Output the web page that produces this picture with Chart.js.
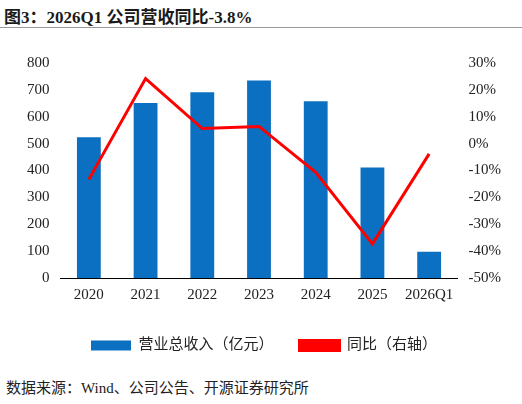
<!DOCTYPE html>
<html><head><meta charset="utf-8">
<script src="https://cdn.jsdelivr.net/npm/chart.js@4"></script>
<style>
body{margin:0;width:522px;height:404px;background:#fff;font-family:"Liberation Serif","Noto Sans CJK SC",serif;position:relative;overflow:hidden}
#title{position:absolute;left:4px;top:3px;font-size:17px;font-weight:bold;color:#1a1a1a}
#line{position:absolute;left:0;top:27px;width:522px;height:1px;background:#999}
#src{position:absolute;left:6px;top:376px;font-size:15px;color:#222}
#wrap{position:absolute;left:0;top:51px;width:522px;height:312px}
</style></head><body>
<div id="title">图3：2026Q1 公司营收同比-3.8%</div>
<div id="line"></div>
<div id="wrap"><canvas id="c"></canvas></div>
<div id="src">数据来源：Wind、公司公告、开源证券研究所</div>
<script>
const labels = ["2020","2021","2022","2023","2024","2025","2026Q1"];
const revenue = [524, 651, 691, 735, 658, 411, 98];
const yoy = [-13.3, 24.2, 5.6, 6.4, -10.7, -37.3, -3.8];
const font = {family:'"Liberation Serif","Noto Sans CJK SC",serif', size:15};
new Chart(document.getElementById("c"), {
  data: {
    labels,
    datasets: [
      {type:"line", label:"同比（右轴）", data:yoy, borderColor:"#ff0000", backgroundColor:"#ff0000",
       borderWidth:3, pointRadius:0, tension:0, yAxisID:"y1", order:0},
      {type:"bar", label:"营业总收入（亿元）", data:revenue, backgroundColor:"#0b6fc2",
       barPercentage:0.42, categoryPercentage:1, yAxisID:"y", order:1}
    ]
  },
  options: {
    responsive:true, maintainAspectRatio:false, animation:false,
    layout:{padding:{left:24,right:18,top:0}},
    plugins:{legend:{position:"bottom", reverse:true,
      labels:{font, color:"#222", boxWidth:40, boxHeight:10, padding:26}}, tooltip:{enabled:false}},
    scales:{
      x:{grid:{display:false, drawTicks:false}, border:{color:"#000"}, ticks:{font, color:"#222", padding:8}},
      y:{min:0, max:800, ticks:{stepSize:100, font, color:"#222"}, grid:{display:false}, border:{display:false}},
      y1:{position:"right", min:-50, max:30, ticks:{stepSize:10, font, color:"#222", callback:v=>v+"%"},
          grid:{display:false}, border:{display:false}}
    }
  }
});
</script>
</body></html>
